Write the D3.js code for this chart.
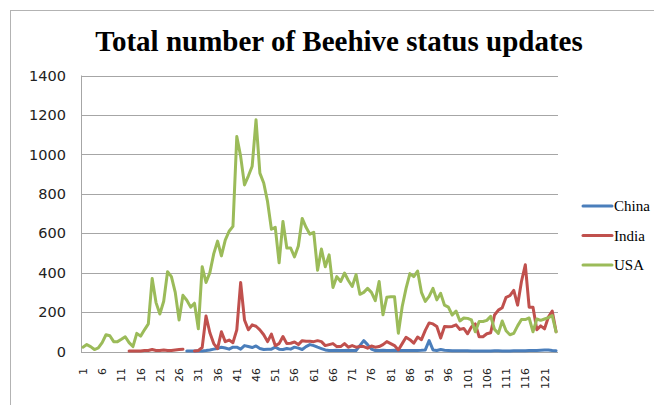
<!DOCTYPE html>
<html>
<head>
<meta charset="utf-8">
<script src="https://cdn.jsdelivr.net/npm/d3@7"></script>
<style>
  body { margin: 0; background: #fff; }
</style>
</head>
<body>
<div id="canvas"></div>
<script>
const width = 654;
const height = 405;

// status updates per period, null = no data
const usa = [
  22, 35, 25, 10, 18, 45, 85, 80, 50, 50,
  62, 75, 45, 25, 92, 78, 110, 140, 370, 248,
  190, 255, 405, 380, 300, 160, 285, 260, 225, 245,
  115, 430, 350, 400, 495, 560, 485, 565, 610, 635,
  1090, 990, 845, 890, 940, 1175, 905, 855, 760, 620,
  630, 450, 660, 525, 525, 480, 535, 675, 630, 595,
  605, 412, 520, 430, 490, 325, 380, 355, 398, 360,
  330, 390, 290, 300, 320, 300, 258, 355, 186, 275,
  278, 278, 93, 228, 320, 395, 380, 408, 300, 254,
  280, 320, 262, 295, 235, 225, 185, 205, 155, 170,
  168, 160, 100, 152, 152, 158, 178, 112, 92, 155,
  105, 85, 92, 130, 162, 162, 170, 100, 165, 158,
  165, 172, 182, 100
];
const india = [
  null, null, null, null, null, null, null, null, null, null,
  null, null, 3, 3, 3, 3, 5, 5, 10, 5,
  5, 8, 5, 5, 8, 10, 12, null, null, 3,
  5, 20, 180, 95, 40, 15, 100, 50, 58, 45,
  110, 350, 160, 110, 135, 128, 110, 85, 50, 88,
  30, 40, 76, 40, 42, 48, 35, 55, 52, 52,
  50, 55, 50, 30, 35, 40, 25, 25, 40, 22,
  30, 22, 25, 25, 17, 28, 22, 25, 35, 50,
  40, 30, 8, 40, 72, 60, 42, 73, 60, 107,
  145, 140, 127, 68, 127, 125, 127, 135, 112, 117,
  90, 125, 140, 75, 75, 90, 95, 185, 210, 222,
  275, 283, 310, 235, 355, 440, 225, 225, 110, 130,
  115, 175, 205, 100
];
const china = [
  null, null, null, null, null, null, null, null, null, null,
  null, null, null, null, null, null, null, null, null, null,
  null, null, null, null, null, null, null, 3, 3, 3,
  3, 3, 5, 8, 12, 15, 22, 18, 12, 22,
  22, 12, 30, 25, 20, 28, 15, 10, 12, 12,
  22, 12, 10, 15, 12, 22, 17, 10, 25, 35,
  30, 22, 15, 8, 5, 5, 6, 5, 5, 6,
  5, 5, 30, 55, 35, 12, 5, 5, 6, 5,
  5, 6, 5, 5, 5, 5, 5, 5, 6, 8,
  55, 8, 5, 10, 6, 5, 4, 4, 4, 4,
  4, 3, 3, 3, 3, 3, 3, 4, 4, 3,
  3, 3, 4, 4, 4, 4, 5, 5, 5, 6,
  7, 8, 5, 4
];
const seriesNames = ["China", "India", "USA"];
const seriesColors = ["#4a7ebb", "#c0504d", "#9bbb59"];
const yTicks = [0, 200, 400, 600, 800, 1000, 1200, 1400];

const categories = d3.range(1, usa.length + 1);
const xTickLabels = categories.filter(c => (c - 1) % 5 == 0);
const allSeries = [china, india, usa];

const svg = d3.select("#canvas")
    .append("svg")
    .attr("width", width)
    .attr("height", height);

// chart frame
svg.append("rect")
    .attr("x", 10.5).attr("y", 10.5)
    .attr("width", 700).attr("height", 500)
    .attr("fill", "none")
    .attr("stroke", "#b3b3b3");

svg.append("text")
    .attr("x", 339).attr("y", 51)
    .attr("text-anchor", "middle")
    .attr("font-family", "Liberation Serif")
    .attr("font-weight", "bold")
    .attr("font-size", 29)
    .text("Total number of Beehive status updates");

const plot = { left: 81, right: 558, top: 75.5, bottom: 351.5 };

const x = d3.scaleBand()
    .domain(categories)
    .range([plot.left, plot.right]);
const y = d3.scaleLinear()
    .domain([0, 1400])
    .range([plot.bottom, plot.top]);
const cx = c => x(c) + x.bandwidth() / 2;

// gridlines
svg.append("g")
    .selectAll("line")
    .data(yTicks)
    .join("line")
    .attr("x1", plot.left).attr("x2", plot.right)
    .attr("y1", d => Math.round(y(d)) + 0.5)
    .attr("y2", d => Math.round(y(d)) + 0.5)
    .attr("stroke", "#a6a6a6");

svg.append("line")
    .attr("x1", plot.left + 0.5).attr("x2", plot.left + 0.5)
    .attr("y1", plot.top).attr("y2", Math.round(plot.bottom) + 0.5)
    .attr("stroke", "#a6a6a6");

// y labels
svg.append("g")
    .selectAll("text")
    .data(yTicks)
    .join("text")
    .attr("x", 66)
    .attr("y", d => y(d))
    .attr("dy", "0.36em")
    .attr("text-anchor", "end")
    .attr("font-family", "DejaVu Sans")
    .attr("font-size", 14.5)
    .attr("fill", "#222")
    .text(d => d);

// x labels, rotated
svg.append("g")
    .selectAll("text")
    .data(xTickLabels)
    .join("text")
    .attr("transform", d => `translate(${cx(d)}, 368) rotate(-90)`)
    .attr("dy", "0.36em")
    .attr("text-anchor", "end")
    .attr("font-family", "DejaVu Sans")
    .attr("font-size", 11)
    .attr("fill", "#222")
    .text(d => d);

const line = d3.line()
    .defined(d => d[1] != null)
    .x(d => cx(d[0]))
    .y(d => y(d[1]));

allSeries.forEach(function(s, i){
    svg.append("path")
        .datum(categories.map((c, k) => [c, s[k]]))
        .attr("d", line)
        .attr("fill", "none")
        .attr("stroke", seriesColors[i])
        .attr("stroke-width", 3)
        .attr("stroke-linejoin", "round")
        .attr("stroke-linecap", "round");
});

// legend
const legend = svg.append("g")
    .selectAll("g")
    .data(seriesNames)
    .join("g")
    .attr("transform", (d, i) => `translate(583, ${206 + i * 29.5})`);
legend.append("line")
    .attr("x1", 0).attr("x2", 29)
    .attr("stroke", (d, i) => seriesColors[i])
    .attr("stroke-width", 3)
    .attr("stroke-linecap", "round");
legend.append("text")
    .attr("x", 31)
    .attr("dy", "0.35em")
    .attr("font-family", "Liberation Serif")
    .attr("font-size", 15)
    .text(d => d);
</script>
</body>
</html>
